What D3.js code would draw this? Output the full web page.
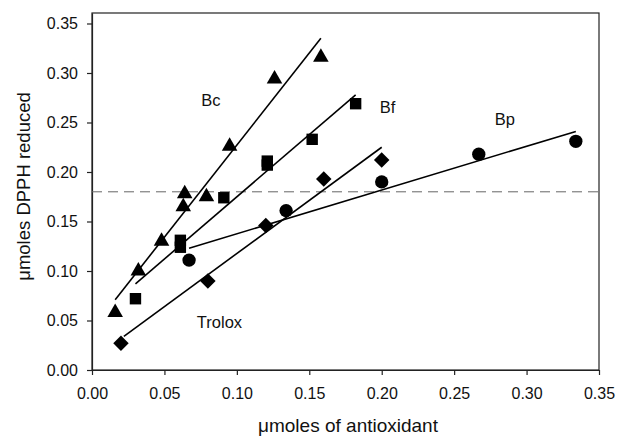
<!DOCTYPE html>
<html>
<head>
<meta charset="utf-8">
<script src="https://cdn.jsdelivr.net/npm/d3@7"></script>
<style>
  body { margin: 0; background: #fff; }
  text { font-family: "Liberation Sans", Arial, sans-serif; fill: #111; }
</style>
</head>
<body>
<svg id="chart" width="618" height="437"></svg>
<script>
// DPPH reduction vs. amount of antioxidant

// Bc (triangles)
const bcX = [0.016, 0.032, 0.048, 0.063, 0.064, 0.079, 0.095, 0.126, 0.158];
const bcY = [0.058, 0.100, 0.130, 0.165, 0.178, 0.175, 0.226, 0.294, 0.316];
// Bf (squares)
const bfX = [0.030, 0.061, 0.061, 0.091, 0.121, 0.121, 0.152, 0.182];
const bfY = [0.072, 0.124, 0.131, 0.174, 0.207, 0.211, 0.233, 0.269];
// Bp (circles)
const bpX = [0.067, 0.134, 0.200, 0.267, 0.334];
const bpY = [0.111, 0.161, 0.190, 0.218, 0.231];
// Trolox (diamonds)
const trX = [0.020, 0.080, 0.120, 0.160, 0.200];
const trY = [0.027, 0.090, 0.146, 0.193, 0.212];

// fitted lines: [x start, y start, x end, y end]
const fitBc = [0.016, 0.071, 0.158, 0.335];
const fitBf = [0.030, 0.087, 0.182, 0.278];
const fitBp = [0.067, 0.123, 0.334, 0.241];
const fitTr = [0.022, 0.034, 0.200, 0.225];

const refLevel = 0.18;
const xTicks = [0, 0.05, 0.10, 0.15, 0.20, 0.25, 0.30, 0.35];
const yTicks = [0, 0.05, 0.10, 0.15, 0.20, 0.25, 0.30, 0.35];

const series = [
  { name: "Bc", xs: bcX, ys: bcY, fit: fitBc, shape: d3.symbolTriangle, size: 105, rot: 0, lx: 0.082, ly: 0.273 },
  { name: "Bf", xs: bfX, ys: bfY, fit: fitBf, shape: d3.symbolSquare, size: 130, rot: 0, lx: 0.204, ly: 0.266 },
  { name: "Bp", xs: bpX, ys: bpY, fit: fitBp, shape: d3.symbolCircle, size: 140, rot: 0, lx: 0.285, ly: 0.254 },
  { name: "Trolox", xs: trX, ys: trY, fit: fitTr, shape: d3.symbolSquare, size: 120, rot: 45, lx: 0.088, ly: 0.048 }
];

const svg = d3.select("#chart");
const margin = { top: 13, right: 19, bottom: 67, left: 92 };
const w = 618 - margin.left - margin.right;
const h = 437 - margin.top - margin.bottom;

const x = d3.scaleLinear().domain([0, 0.35]).range([0, w]);
const y = d3.scaleLinear().domain([0, 0.3606]).range([h, 0]);

const plot = svg.append("g")
  .attr("transform", `translate(${margin.left} ${margin.top})`);

// frame
plot.append("rect")
  .attr("width", w)
  .attr("height", h)
  .attr("fill", "none")
  .attr("stroke", "#222")
  .attr("stroke-width", 1.2);

// axes
const xAxis = plot.append("g")
  .attr("transform", `translate(0 ${h})`)
  .call(d3.axisBottom(x).tickValues(xTicks).tickFormat(d3.format(".2f")).tickSize(5).tickSizeOuter(0));

const yAxis = plot.append("g")
  .call(d3.axisLeft(y).tickValues(yTicks).tickFormat(d3.format(".2f")).tickSize(5).tickSizeOuter(0));

[xAxis, yAxis].forEach(a => {
  a.select(".domain").attr("stroke", "#222").attr("stroke-width", 1.2);
  a.selectAll(".tick line").attr("stroke", "#222").attr("stroke-width", 1.2);
  a.selectAll(".tick text")
    .style("font-family", "'Liberation Sans', Arial, sans-serif")
    .style("font-size", "16px")
    .attr("fill", "#111");
});
xAxis.selectAll(".tick text").attr("dy", "1.29em");
yAxis.selectAll(".tick text").attr("x", -14);

// reference level
plot.append("line")
  .attr("x1", 0).attr("x2", w)
  .attr("y1", y(refLevel)).attr("y2", y(refLevel))
  .attr("stroke", "#666")
  .attr("stroke-width", 1)
  .attr("stroke-dasharray", "10,6");

// fitted lines
plot.selectAll(".fit")
  .data(series)
  .join("line")
  .attr("class", "fit")
  .attr("x1", d => x(d.fit[0])).attr("y1", d => y(d.fit[1]))
  .attr("x2", d => x(d.fit[2])).attr("y2", d => y(d.fit[3]))
  .attr("stroke", "#000")
  .attr("stroke-width", 1.6);

// markers
series.forEach(s => {
  plot.append("g")
    .selectAll("path")
    .data(s.xs.map((v, i) => [v, s.ys[i]]))
    .join("path")
    .attr("transform", d => `translate(${x(d[0])} ${y(d[1])}) rotate(${s.rot})`)
    .attr("d", d3.symbol().type(s.shape).size(s.size))
    .attr("fill", "#000");
});

// series labels
plot.selectAll(".series-label")
  .data(series)
  .join("text")
  .attr("class", "series-label")
  .attr("x", d => x(d.lx))
  .attr("y", d => y(d.ly))
  .attr("text-anchor", "middle")
  .attr("dominant-baseline", "central")
  .style("font-size", "16.5px")
  .text(d => d.name);

// axis titles
svg.append("text")
  .attr("x", 348)
  .attr("y", 432)
  .attr("text-anchor", "middle")
  .style("font-size", "19px")
  .text("\u03bcmoles of antioxidant");

svg.append("text")
  .attr("transform", `translate(30 186.5) rotate(-90)`)
  .attr("text-anchor", "middle")
  .style("font-size", "18.5px")
  .text("\u03bcmoles DPPH reduced");
</script>
</body>
</html>
